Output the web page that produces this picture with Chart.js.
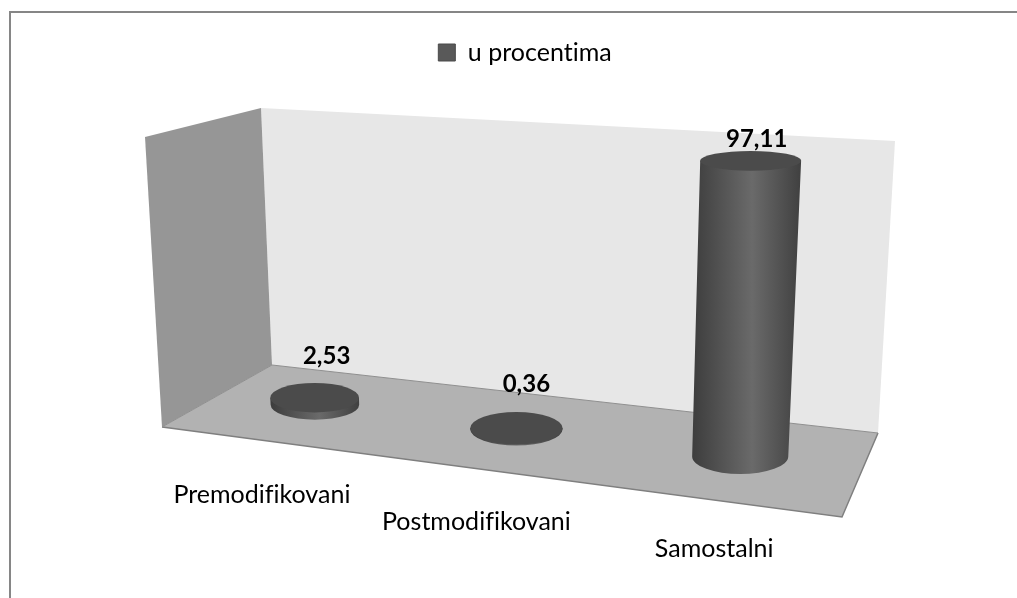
<!DOCTYPE html>
<html>
<head>
<meta charset="utf-8">
<title>u procentima</title>
<script src="https://cdn.jsdelivr.net/npm/chart.js@4/dist/chart.umd.js"></script>
<style>
    html, body { margin: 0; padding: 0; background: #ffffff; }
    canvas { display: block; }
</style>
</head>
<body>
<canvas id="chart" width="1017" height="598"></canvas>
<script>
// Chart data
const categories = ['Premodifikovani', 'Postmodifikovani', 'Samostalni'];
const seriesName = 'u procentima';
const seriesValues = [2.53, 0.36, 97.11];

// Scene corners of the 3D box, as seen in the picture
const BACK_LEFT = [272, 365];
const BACK_RIGHT = [878, 433];
const FRONT_RIGHT = [842, 517];
const FRONT_LEFT = [162, 427];
const WALL_TOP_LEFT = [261, 108];
const WALL_TOP_RIGHT = [895, 141];
const WALL_OUTER_LEFT = [145, 137];
const VANISH = [530, 6400];         // where the verticals meet
const CORNER_HEIGHTS = [257, 292, 330, 293]; // axis height at BL, BR, FR, FL
const DEPTH = 0.49;                 // cylinders stand mid floor

// Text offsets from each cylinder
const valueOffsets = [[12, -41], [10, -44], [6, -22]];
const labelOffsets = [[-53, 90], [-40, 93], [-26, 93]];

const FONT = 'Lato, Carlito, sans-serif';

// Square to quad mapping for the floor
function floorMapping() {
    const [x0, y0] = BACK_LEFT, [x1, y1] = BACK_RIGHT, [x2, y2] = FRONT_RIGHT, [x3, y3] = FRONT_LEFT;
    const dx1 = x1 - x2, dx2 = x3 - x2, sx = x0 - x1 + x2 - x3;
    const dy1 = y1 - y2, dy2 = y3 - y2, sy = y0 - y1 + y2 - y3;
    const den = dx1 * dy2 - dx2 * dy1;
    const g = (sx * dy2 - dx2 * sy) / den;
    const h = (dx1 * sy - sx * dy1) / den;
    const a = x1 - x0 + g * x1, b = x3 - x0 + h * x3;
    const d = y1 - y0 + g * y1, e = y3 - y0 + h * y3;
    return (u, v) => {
        const w = g * u + h * v + 1;
        return [(a * u + b * v + x0) / w, (d * u + e * v + y0) / w];
    };
}
const onFloor = floorMapping();

function axisHeightAt(u, v) {
    const back = CORNER_HEIGHTS[0] + (CORNER_HEIGHTS[1] - CORNER_HEIGHTS[0]) * u;
    const front = CORNER_HEIGHTS[3] + (CORNER_HEIGHTS[2] - CORNER_HEIGHTS[3]) * u;
    return back + (front - back) * v;
}

function polygon(ctx, points, fill) {
    ctx.beginPath();
    points.forEach((p, i) => i ? ctx.lineTo(p[0], p[1]) : ctx.moveTo(p[0], p[1]));
    ctx.closePath();
    ctx.fillStyle = fill;
    ctx.fill();
}

// Flatness of the ellipse depends on how high on the page it sits
function flatness(y) {
    return 0.1025 + 0.000579 * y;
}

function drawCylinder(ctx, base, top, rxBase, rxTop) {
    const ryBase = rxBase * flatness(base[1]);
    const ryTop = rxTop * flatness(top[1]);

    const grad = ctx.createLinearGradient(base[0] - rxBase, 0, top[0] + rxTop, 0);
    grad.addColorStop(0, '#3d3d3d');
    grad.addColorStop(0.55, '#6a6a6a');
    grad.addColorStop(1, '#404040');

    ctx.beginPath();
    ctx.moveTo(top[0] - rxTop, top[1]);
    ctx.lineTo(base[0] - rxBase, base[1]);
    ctx.ellipse(base[0], base[1], rxBase, ryBase, 0, Math.PI, 0, true);
    ctx.lineTo(top[0] + rxTop, top[1]);
    ctx.closePath();
    ctx.fillStyle = grad;
    ctx.fill();

    ctx.beginPath();
    ctx.ellipse(top[0], top[1], rxTop, ryTop, 0, 0, Math.PI * 2);
    ctx.fillStyle = '#4b4b4b';
    ctx.fill();
}

const scenePlugin = {
    id: 'scene',
    // Tiny spacing stops the font from joining "ti" and "fi"
    beforeUpdate(chart) {
        chart.ctx.letterSpacing = '0.01px';
    },
    beforeDraw(chart) {
        const ctx = chart.ctx;
        ctx.save();

        // Frame, only top and left are in the picture
        ctx.strokeStyle = '#868686';
        ctx.lineWidth = 2;
        ctx.beginPath();
        ctx.moveTo(10, chart.height);
        ctx.lineTo(10, 12);
        ctx.lineTo(chart.width, 12);
        ctx.stroke();

        polygon(ctx, [WALL_TOP_LEFT, WALL_TOP_RIGHT, BACK_RIGHT, BACK_LEFT], '#e7e7e7');
        polygon(ctx, [WALL_OUTER_LEFT, WALL_TOP_LEFT, BACK_LEFT, FRONT_LEFT], '#969696');
        polygon(ctx, [BACK_LEFT, BACK_RIGHT, FRONT_RIGHT, FRONT_LEFT], '#b2b2b2');

        // Floor edges
        ctx.strokeStyle = '#7f7f7f';
        ctx.lineWidth = 1.5;
        ctx.beginPath();
        ctx.moveTo(FRONT_LEFT[0], FRONT_LEFT[1]);
        ctx.lineTo(FRONT_RIGHT[0], FRONT_RIGHT[1]);
        ctx.lineTo(BACK_RIGHT[0], BACK_RIGHT[1]);
        ctx.stroke();
        ctx.strokeStyle = '#8f8f8f';
        ctx.lineWidth = 1;
        ctx.beginPath();
        ctx.moveTo(BACK_RIGHT[0], BACK_RIGHT[1]);
        ctx.lineTo(BACK_LEFT[0], BACK_LEFT[1]);
        ctx.lineTo(FRONT_LEFT[0], FRONT_LEFT[1]);
        ctx.stroke();
        ctx.restore();
    },
    // The flat bars are replaced by cylinders placed from the same scales
    beforeDatasetDraw(chart) {
        const ctx = chart.ctx;
        const area = chart.chartArea;
        const xScale = chart.scales.x;
        const yScale = chart.scales.y;
        const bars = chart.getDatasetMeta(0).data;

        ctx.save();
        seriesValues.forEach((value, i) => {
            const u = (xScale.getPixelForValue(i) - area.left) / area.width;
            const base = onFloor(u, DEPTH);
            const fraction = (yScale.bottom - yScale.getPixelForValue(value)) / yScale.height;
            const rise = fraction * axisHeightAt(u, DEPTH);

            const toBaseX = base[0] - VANISH[0], toBaseY = base[1] - VANISH[1];
            const dist = Math.hypot(toBaseX, toBaseY);
            const top = [base[0] + toBaseX / dist * rise, base[1] + toBaseY / dist * rise];

            const rxBase = bars[i].width / 2 * axisHeightAt(u, DEPTH) / 300;
            const rxTop = rxBase * (dist + rise) / dist;
            drawCylinder(ctx, base, top, rxBase, rxTop);

            ctx.fillStyle = '#000000';
            ctx.textAlign = 'center';
            ctx.textBaseline = 'middle';
            ctx.font = 'bold 24px ' + FONT;
            ctx.fillText(String(value).replace('.', ','), top[0] + valueOffsets[i][0], top[1] + valueOffsets[i][1]);

            ctx.font = '25px ' + FONT;
            ctx.fillText(categories[i], base[0] + labelOffsets[i][0], base[1] + labelOffsets[i][1]);
        });
        ctx.restore();
        return false;
    }
};

const chart = new Chart(document.getElementById('chart').getContext('2d'), {
    type: 'bar',
    data: {
        labels: categories,
        datasets: [{
            label: seriesName,
            data: seriesValues,
            backgroundColor: '#595959',
            borderColor: '#4a4a4a',
            borderWidth: 1,
            categoryPercentage: 0.8,
            barPercentage: 0.5
        }]
    },
    plugins: [scenePlugin],
    options: {
        responsive: false,
        animation: false,
        layout: { padding: { left: 170, right: 137, top: 30, bottom: 40 } },
        scales: {
            x: { display: false },
            y: { display: false, min: 0, max: 100 }
        },
        plugins: {
            tooltip: { enabled: false },
            legend: {
                position: 'top',
                labels: {
                    boxWidth: 17,
                    boxHeight: 17,
                    padding: 10,
                    color: '#000000',
                    font: { family: FONT, size: 25 }
                }
            }
        }
    }
});
</script>
</body>
</html>
